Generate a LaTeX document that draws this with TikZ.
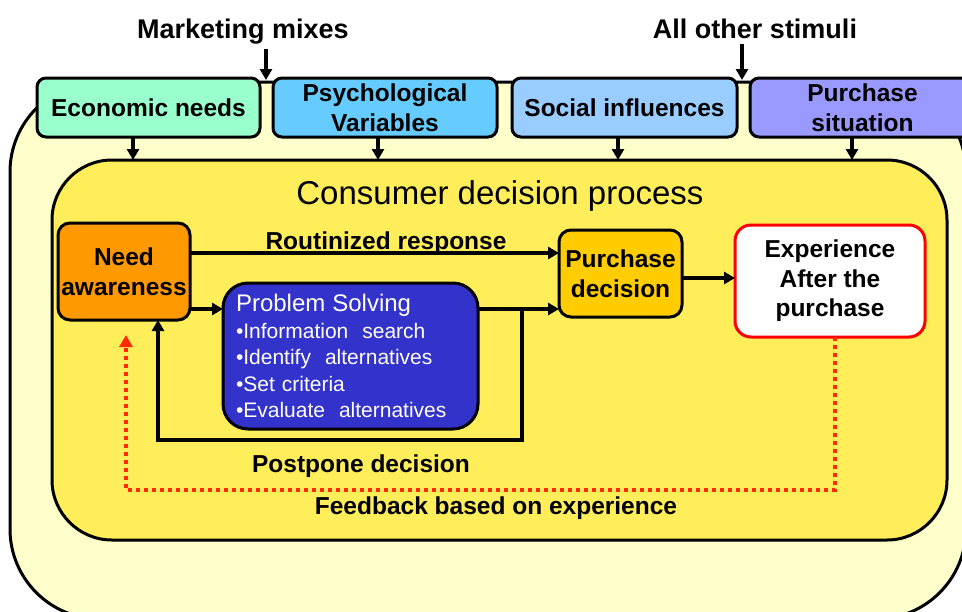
\documentclass[tikz,border=0pt]{standalone}
\usepackage{fontspec}
\setmainfont{Liberation Sans}
\usetikzlibrary{arrows.meta,calc}
\definecolor{outerfill}{HTML}{FFFFCC}
\definecolor{innerfill}{HTML}{FFEE5A}
\definecolor{econfill}{HTML}{99FFCC}
\definecolor{psychfill}{HTML}{66CCFF}
\definecolor{socialfill}{HTML}{99CCFF}
\definecolor{situfill}{HTML}{9999FF}
\definecolor{needfill}{HTML}{FF9900}
\definecolor{psfill}{HTML}{3333CC}
\definecolor{pdfill}{HTML}{FFCC00}
\definecolor{fbred}{HTML}{FF2A00}

\begin{document}
\begin{tikzpicture}[x=1pt,y=-1pt,
  every node/.style={inner sep=0pt, outer sep=0pt},
  lbl/.style={font=\fontsize{24.5}{29.5}\selectfont\bfseries, align=center},
  toplbl/.style={font=\fontsize{27}{30}\selectfont\bfseries},
  tagbox/.style={draw=black, line width=3pt, rounded corners=#1, lbl},
  tagbox/.default=9pt,
  arr/.style={draw=black, line width=3.6pt, -{Triangle[length=11pt,width=12pt]}},
  fbarr/.style={draw=fbred, line width=4pt, dash pattern=on 4pt off 4pt,
    -{Triangle[length=12pt,width=13pt,fill=fbred]}},
]
\clip (0,0) rectangle (962,611);

% environment frame
\node[draw, line width=3pt, fill=outerfill, rounded corners=90pt,
  minimum width=956pt, minimum height=537pt] (env) at (488,350.5) {};

% external stimuli
\node[toplbl, anchor=base] (mm) at (243,38) {Marketing mixes};
\node[toplbl, anchor=base] (aos) at (755,38) {All other stimuli};
\coordinate (mmgap) at (266,80);
\coordinate (aosgap) at (742,80);
\draw[arr, shorten <=5.5pt] (mm.south -| mmgap) -- (mmgap);
\draw[arr, shorten <=5.5pt] (aos.south -| aosgap) -- (aosgap);

% influence boxes
\node[tagbox, fill=econfill, minimum width=223pt, minimum height=59pt]
  (econ) at (148.5,107.5) {Economic needs};
\node[tagbox, fill=psychfill, minimum width=224pt, minimum height=59pt]
  (psych) at (385,107.5) {Psychological\\Variables};
\node[tagbox, fill=socialfill, minimum width=225pt, minimum height=59pt]
  (social) at (624.5,107.5) {Social influences};
\node[tagbox, fill=situfill, minimum width=225pt, minimum height=59pt]
  (situ) at (862.5,107.5) {Purchase\\situation};

% decision process frame
\node[draw, line width=3pt, fill=innerfill, rounded corners=60pt,
  minimum width=895pt, minimum height=380pt] (cdp) at (499.5,350) {};
\node[anchor=base, font=\fontsize{33}{36}\selectfont] (cdptitle) at (500,204)
  {Consumer decision process};

\draw[arr] ([xshift=-15.5pt]econ.south) -- ([xshift=-15.5pt]econ.south |- cdp.north);
\draw[arr] ([xshift=-7pt]psych.south) -- ([xshift=-7pt]psych.south |- cdp.north);
\draw[arr] ([xshift=-6.5pt]social.south) -- ([xshift=-6.5pt]social.south |- cdp.north);
\draw[arr] ([xshift=-10.5pt]situ.south) -- ([xshift=-10.5pt]situ.south |- cdp.north);

% process steps
\node[tagbox=12pt, fill=needfill, minimum width=132pt, minimum height=97pt]
  (need) at (124,271.5) {Need\\awareness};
\node[draw, line width=3pt, rounded corners=25pt, fill=psfill, text=white,
  minimum width=255pt, minimum height=146pt, text width=229pt, align=left,
  font=\fontsize{21}{26.5}\selectfont] (ps) at (350.5,356)
  {{\fontsize{24}{26.5}\selectfont Problem Solving}\\
   •Information\ \ search\\
   •Identify\ \ alternatives\\
   •Set criteria\\
   •Evaluate\ \ alternatives};
\node[tagbox=12pt, fill=pdfill, minimum width=123pt, minimum height=87pt]
  (pd) at (620.5,273.5) {Purchase\\decision};
\node[draw=red, line width=3pt, rounded corners=16pt, fill=white, lbl,
  minimum width=190pt, minimum height=112pt] (exp) at (830,281)
  {Experience\\After the\\purchase};

% flows
\draw[arr] ([yshift=18.5pt]need.east) -- ([yshift=18.5pt]need.east -| pd.west);
\node[lbl, anchor=base] (rrlbl) at (386,249) {Routinized response};
\draw[arr] ([yshift=-37.5pt]need.east) -- ([yshift=-37.5pt]need.east -| ps.west);
\draw[arr] ([yshift=47pt]ps.east) -- ([yshift=47pt]ps.east -| pd.west);
\coordinate (split) at (522,309);
\draw[arr] (split) -- ++(0,131) -| ([xshift=34pt]need.south);
\node[lbl, anchor=base] (pplbl) at (361,472) {Postpone decision};
\draw[arr] ([yshift=-4.5pt]pd.east) -- ([yshift=-4.5pt]pd.east -| exp.west);

% feedback loop
\draw[fbarr] ([xshift=5pt]exp.south) -- ++(0,153) -| ([xshift=2pt,yshift=-15pt]need.south);
\node[lbl, anchor=base] (fblbl) at (496,514) {Feedback based on experience};
\end{tikzpicture}
\end{document}
